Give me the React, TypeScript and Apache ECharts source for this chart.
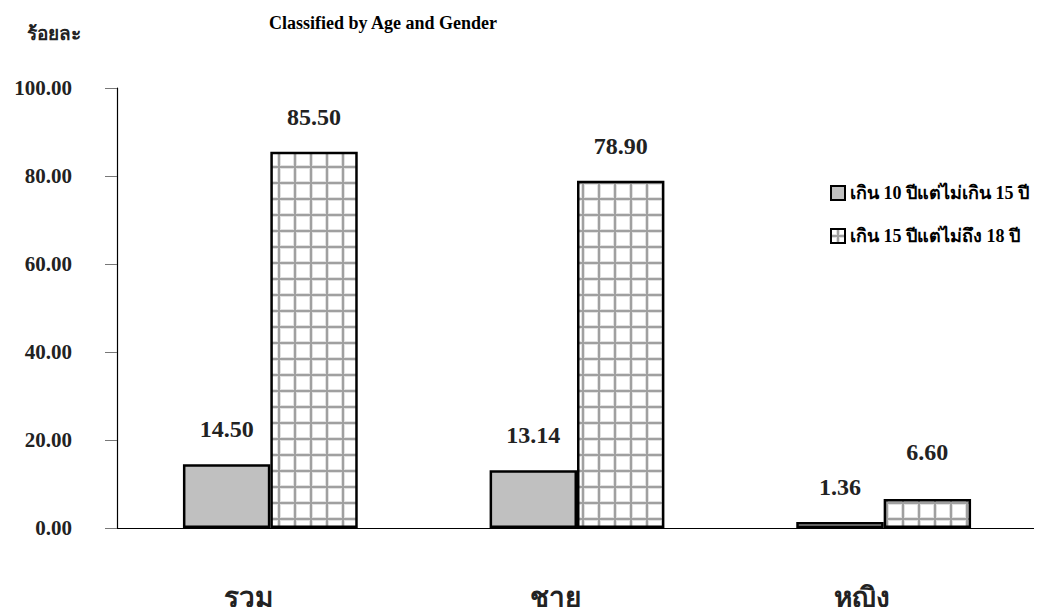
import React, { useEffect, useRef } from "react";
import * as echarts from "echarts";

const categories = ["รวม", "ชาย", "หญิง"];
const seriesNames = ["เกิน 10 ปีแต่ไม่เกิน 15 ปี", "เกิน 15 ปีแต่ไม่ถึง 18 ปี"];
const age10to15 = [14.5, 13.14, 1.36];
const age15to18 = [85.5, 78.9, 6.6];
const yTicks = [0, 20, 40, 60, 80, 100];
const titleText = "Classified by Age and Gender";
const yAxisName = "ร้อยละ";

const FONT = "'Times New Roman', 'Liberation Serif', 'DejaVu Serif', serif";

const gridSvg =
  "<svg xmlns='http://www.w3.org/2000/svg' width='16' height='16'>" +
  "<rect width='16' height='16' fill='#ffffff'/>" +
  "<rect x='5' y='0' width='4' height='16' fill='#e2e2e2'/>" +
  "<rect x='0' y='5' width='16' height='4' fill='#e2e2e2'/>" +
  "<rect x='6' y='0' width='2' height='16' fill='#a0a0a0'/>" +
  "<rect x='0' y='6' width='16' height='2' fill='#a0a0a0'/>" +
  "</svg>";
const gridUrl = "data:image/svg+xml;charset=utf-8," + encodeURIComponent(gridSvg);

export default function App() {
  const ref = useRef<HTMLDivElement>(null);
  useEffect(() => {
    if (!ref.current) return;
    const chart = echarts.init(ref.current, undefined, { renderer: "svg" });
    const hatch: any = { image: gridUrl, repeat: "repeat", imageWidth: 16, imageHeight: 16 };
    const labelBase = {
      show: true,
      position: "top",
      distance: 23,
      fontFamily: FONT,
      fontSize: 24,
      fontWeight: "bold",
      color: "#222",
      formatter: (p: any) => Number(p.value).toFixed(2),
    };
    chart.setOption({
      animation: false,
      backgroundColor: "#ffffff",
      title: [
        {
          text: titleText,
          left: 264,
          top: 9,
          textStyle: { fontFamily: FONT, fontSize: 18, fontWeight: "bold", color: "#000" },
        },
        {
          text: yAxisName,
          left: 22,
          top: 19,
          textStyle: { fontFamily: FONT, fontSize: 19, fontWeight: "bold", color: "#222" },
        },
      ],
      legend: {
        orient: "vertical",
        left: 825,
        top: 179,
        itemWidth: 14,
        itemHeight: 14,
        itemGap: 25,
        icon: "rect",
        textStyle: { fontFamily: FONT, fontSize: 18, fontWeight: "bold", color: "#000" },
        itemStyle: { borderColor: "#000", borderWidth: 2 },
        data: seriesNames,
      },
      grid: { left: 117, right: 5, top: 88, bottom: 87, containLabel: false },
      xAxis: {
        type: "category",
        data: categories,
        axisTick: { show: false },
        axisLine: { lineStyle: { color: "#000", width: 1.2 } },
        axisLabel: {
          margin: 55,
          padding: [0, 44, 0, 0],
          fontFamily: FONT,
          fontSize: 28,
          fontWeight: "bold",
          color: "#222",
        },
      },
      yAxis: {
        type: "value",
        min: yTicks[0],
        max: yTicks[yTicks.length - 1],
        interval: 20,
        splitLine: { show: false },
        axisLine: { show: true, lineStyle: { color: "#000", width: 1.2 } },
        axisTick: { show: true, length: 12, lineStyle: { color: "#777" } },
        axisLabel: {
          margin: 45,
          fontFamily: FONT,
          fontSize: 21,
          fontWeight: "bold",
          color: "#222",
          formatter: (v: number) => v.toFixed(2),
        },
      },
      series: [
        {
          name: seriesNames[0],
          type: "bar",
          barGap: "0%",
          barCategoryGap: "43%",
          itemStyle: { color: "#c0c0c0", borderColor: "#000", borderWidth: 2.5 },
          label: labelBase,
          data: age10to15.map((v) => ({ value: v })),
        },
        {
          name: seriesNames[1],
          type: "bar",
          barGap: "0%",
          barCategoryGap: "43%",
          itemStyle: { color: hatch, borderColor: "#000", borderWidth: 2.5 },
          label: labelBase,
          data: age15to18.map((v, i) =>
            i === age15to18.length - 1 ? { value: v, label: { distance: 35 } } : { value: v }
          ),
        },
      ],
    });
    return () => chart.dispose();
  }, []);
  return <div ref={ref} style={{ width: 1042, height: 615, margin: -8 }} />;
}
